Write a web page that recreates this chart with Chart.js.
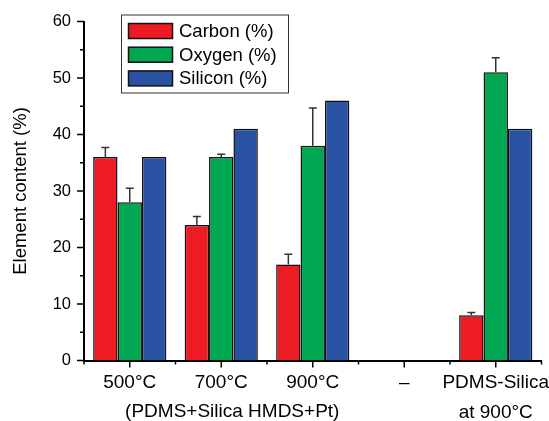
<!DOCTYPE html>
<html>
<head>
<meta charset="utf-8">
<script src="https://cdn.jsdelivr.net/npm/chart.js@4.4.0/dist/chart.umd.min.js"></script>
<style>
    html, body { margin: 0; padding: 0; background: #fff; }
    #wrap { width: 549px; height: 421px; }
</style>
</head>
<body>
<div id="wrap"><canvas id="elementChart"></canvas></div>
<script>
"use strict"

//data
const categories = ["500°C", "700°C", "900°C", "–", ["PDMS-Silica", "at 900°C"]];
const carbon = [36, 24, 17, null, 8];
const oxygen = [28, 36, 38, null, 51];
const silicon = [36, 41, 46, null, 41];

//top of each error bar (only drawn upwards)
const carbonErrTop = [37.7, 25.5, 18.8, null, 8.5];
const oxygenErrTop = [30.5, 36.5, 44.7, null, 53.6];
const siliconErrTop = [null, null, null, null, null];

const yTicks = [0, 10, 20, 30, 40, 50, 60];
const yMinorTicks = [5, 15, 25, 35, 45, 55];
const groupLabel = "(PDMS+Silica HMDS+Pt)";

const FONT = "'Liberation Sans', Arial, sans-serif";
const chartEl = document.getElementById("elementChart");

/**
 * Draws error bars, axis tick marks, the legend box and the group label.
 */
const extrasPlugin = {
    id: "extras",
    afterDatasetsDraw(chart) {
        const ctx = chart.ctx;
        const xs = chart.scales.x;
        const ys = chart.scales.y;
        const area = chart.chartArea;

        ctx.save();

        //error bars
        ctx.strokeStyle = "#333";
        ctx.lineWidth = 1.5;
        chart.data.datasets.forEach((ds, i) => {
            const meta = chart.getDatasetMeta(i);
            ds.errTop.forEach((v, j) => {
                if (v === null) return;
                const bar = meta.data[j];
                const yTop = ys.getPixelForValue(v);
                ctx.beginPath();
                ctx.moveTo(bar.x, bar.y);
                ctx.lineTo(bar.x, yTop);
                ctx.moveTo(bar.x - 4, yTop);
                ctx.lineTo(bar.x + 4, yTop);
                ctx.stroke();
            });
        });

        //tick marks
        ctx.strokeStyle = "#000";
        ctx.lineWidth = 1.5;
        ctx.beginPath();
        yTicks.forEach(v => {
            const py = ys.getPixelForValue(v);
            ctx.moveTo(area.left - 7, py);
            ctx.lineTo(area.left, py);
        });
        yMinorTicks.forEach(v => {
            const py = ys.getPixelForValue(v);
            ctx.moveTo(area.left - 4, py);
            ctx.lineTo(area.left, py);
        });
        for (let i = 0; i < categories.length; i++) {
            const px = xs.getPixelForValue(i);
            ctx.moveTo(px, area.bottom);
            ctx.lineTo(px, area.bottom + 7);
        }
        for (let i = 0; i <= categories.length; i++) {
            const px = xs.getPixelForValue(i - 0.5);
            ctx.moveTo(px, area.bottom);
            ctx.lineTo(px, area.bottom + 4);
        }
        ctx.stroke();

        //legend box
        const lx = area.left + 37;
        const ly = 14.5;
        ctx.lineWidth = 1;
        ctx.strokeStyle = "#333";
        ctx.strokeRect(lx + 0.5, ly + 0.5, 167, 78);
        ctx.font = "18.5px " + FONT;
        ctx.textBaseline = "middle";
        ctx.textAlign = "left";
        chart.data.datasets.forEach((ds, i) => {
            const cy = 31 + i * 23.7;
            ctx.fillStyle = ds.backgroundColor;
            ctx.fillRect(lx + 7.5, cy - 7.5, 44, 15);
            ctx.lineWidth = 1.5;
            ctx.strokeStyle = "#111";
            ctx.strokeRect(lx + 7.5, cy - 7.5, 44, 15);
            ctx.fillStyle = "#000";
            ctx.fillText(ds.label, lx + 58, cy + 1);
        });

        //label under the first three groups
        ctx.font = "19px " + FONT;
        ctx.textAlign = "center";
        ctx.fillText(groupLabel, xs.getPixelForValue(1) + 11, 412);

        ctx.restore();
    }
};

new Chart(chartEl, {
    type: "bar",
    data: {
        labels: categories,
        datasets: [{
            label: "Carbon (%)",
            data: carbon,
            errTop: carbonErrTop,
            backgroundColor: "#ED1C24",
            borderColor: "#111",
            borderWidth: 1.5
        }, {
            label: "Oxygen (%)",
            data: oxygen,
            errTop: oxygenErrTop,
            backgroundColor: "#00A651",
            borderColor: "#111",
            borderWidth: 1.5
        }, {
            label: "Silicon (%)",
            data: silicon,
            errTop: siliconErrTop,
            backgroundColor: "#2A52A2",
            borderColor: "#111",
            borderWidth: 1.5
        }]
    },
    options: {
        responsive: true,
        maintainAspectRatio: false,
        animation: false,
        devicePixelRatio: 1,
        layout: {
            padding: { left: 10, right: 7.5, top: 21.5, bottom: 0 }
        },
        datasets: {
            bar: { categoryPercentage: 0.8, barPercentage: 1.0 }
        },
        plugins: {
            legend: { display: false },
            tooltip: { enabled: false }
        },
        scales: {
            x: {
                grid: { display: false, drawTicks: false },
                border: { display: true, color: "#000", width: 2 },
                ticks: {
                    color: "#000",
                    font: { family: FONT, size: 19, lineHeight: 1.55 },
                    padding: 8,
                    maxRotation: 0,
                    autoSkip: false
                },
                afterFit(scale) {
                    scale.height = 60.5;
                    scale.paddingLeft = 0;
                    scale.paddingRight = 0;
                }
            },
            y: {
                min: 0,
                max: 60,
                grid: { display: false, drawTicks: false },
                border: { display: true, color: "#000", width: 2 },
                ticks: {
                    color: "#000",
                    font: { family: FONT, size: 16.5 },
                    padding: 13
                },
                afterBuildTicks(axis) {
                    axis.ticks = yTicks.map(v => ({ value: v }));
                },
                title: {
                    display: true,
                    text: "Element content (%)",
                    color: "#000",
                    font: { family: FONT, size: 18.5 },
                    padding: 0
                },
                afterFit(scale) {
                    scale.width = 74;
                    scale.paddingTop = 0;
                    scale.paddingBottom = 0;
                }
            }
        }
    },
    plugins: [extrasPlugin]
});
</script>
</body>
</html>
